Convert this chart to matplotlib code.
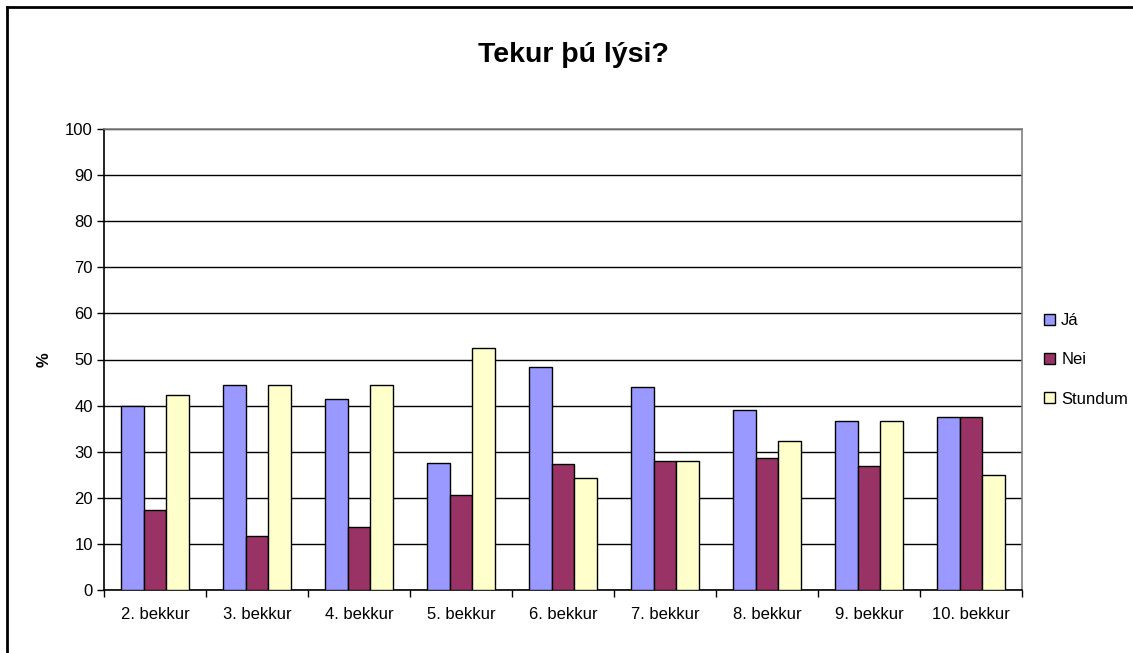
import numpy as np
import matplotlib.pyplot as plt
from matplotlib.lines import Line2D

plt.rcParams['font.family'] = ['Liberation Sans', 'DejaVu Sans']

# Data
categories = ['2. bekkur', '3. bekkur', '4. bekkur', '5. bekkur', '6. bekkur',
              '7. bekkur', '8. bekkur', '9. bekkur', '10. bekkur']
series_names = ['Já', 'Nei', 'Stundum']
ja = [40.0, 44.4, 41.5, 27.5, 48.4, 44.0, 39.1, 36.7, 37.5]
nei = [17.4, 11.7, 13.7, 20.6, 27.4, 27.9, 28.6, 27.0, 37.5]
stundum = [42.3, 44.4, 44.4, 52.4, 24.2, 27.9, 32.3, 36.7, 25.0]
colors = ['#9999FF', '#993366', '#FFFFCC']

fig = plt.figure(figsize=(11.33, 6.53), dpi=100)
ax = fig.add_axes([104/1133, 1 - 590/653, (1022 - 104)/1133, (590 - 129)/653])

x = np.arange(len(categories))
w = 1 / 4.5
for i, (vals, name) in enumerate(zip([ja, nei, stundum], series_names)):
    ax.bar(x + (i - 1) * w, vals, w, color=colors[i], edgecolor='black',
           linewidth=1, label=name, zorder=3)

ax.set_xlim(-0.5, len(categories) - 0.5)
ax.set_ylim(0, 100)
ax.set_yticks(np.arange(0, 101, 10))
ax.yaxis.grid(True, color='black', linewidth=1, zorder=0)
ax.set_axisbelow(True)

ax.set_xticks(x)
ax.set_xticklabels(categories)
ax.set_xticks(np.arange(-0.5, len(categories)), minor=True)
ax.tick_params(axis='x', which='major', length=0, pad=12, labelsize=12)
ax.tick_params(axis='x', which='minor', length=5, width=1, direction='out')
ax.tick_params(axis='y', length=5, width=1, direction='out', labelsize=12, pad=3)

for s in ['left', 'bottom']:
    ax.spines[s].set_color('black')
    ax.spines[s].set_linewidth(1.2)
for s in ['top', 'right']:
    ax.spines[s].set_color('#808080')
    ax.spines[s].set_linewidth(1.2)

ax.set_ylabel('%', fontsize=12, fontweight='bold', labelpad=10)

fig.text(573/1133, 1 - 55/653, 'Tekur þú lýsi?', ha='center', va='center',
         fontsize=20.5, fontweight='bold')

fig.legend(loc='center left', bbox_to_anchor=(1037/1133, 1 - 360/653),
           frameon=False, fontsize=12, handlelength=0.65, handleheight=0.65,
           handletextpad=0.4, labelspacing=1.45, borderaxespad=0)

# outer chart border (left and top visible)
fig.add_artist(Line2D([7/1133, 7/1133], [0, 1 - 7/653], color='black', lw=2,
                      transform=fig.transFigure))
fig.add_artist(Line2D([7/1133, 1], [1 - 7/653, 1 - 7/653], color='black', lw=2,
                      transform=fig.transFigure))

fig.savefig('out.png', dpi=100)
